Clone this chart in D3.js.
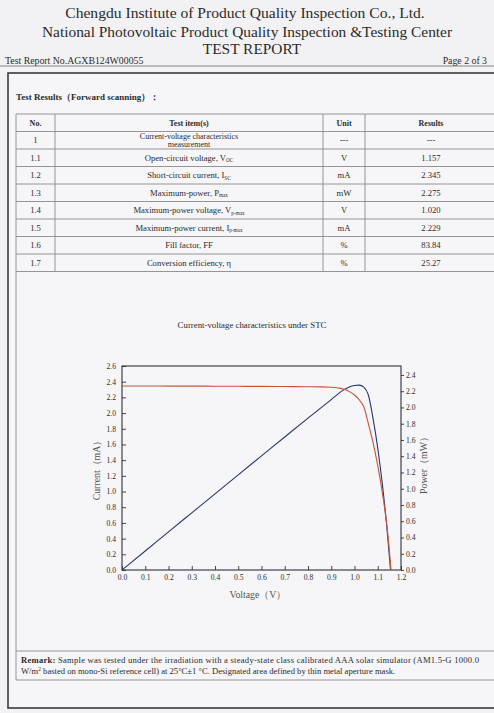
<!DOCTYPE html>
<html>
<head>
<meta charset="utf-8">
<script src="https://cdn.jsdelivr.net/npm/d3@7"></script>
<style>
body { margin: 0; background: #f2f2f4; }
svg { display: block; }
text { font-family: "Liberation Serif", "DejaVu Serif", serif; fill: #2b2b2b; }
</style>
</head>
<body>
<svg id="page" width="494" height="713"></svg>
<script>
// ---- data ----
var itemNo = ["1", "1.1", "1.2", "1.3", "1.4", "1.5", "1.6", "1.7"];
var itemName = ["Current-voltage characteristics|measurement", "Open-circuit voltage, V", "Short-circuit current, I",
  "Maximum-power, P", "Maximum-power voltage, V", "Maximum-power current, I", "Fill factor, FF", "Conversion efficiency, \u03b7"];
var itemSub = ["", "OC", "SC", "max", "p-max", "p-max", "", ""];
var itemUnit = ["---", "V", "mA", "mW", "V", "mA", "%", "%"];
var itemResult = ["---", "1.157", "2.345", "2.275", "1.020", "2.229", "83.84", "25.27"];

// I-V curve (red, left axis)
var ivVoltage = [0, 0.1, 0.2, 0.3, 0.4, 0.5, 0.6, 0.7, 0.8, 0.85, 0.9, 0.93, 0.96, 0.98, 1.0, 1.02, 1.04, 1.06, 1.08, 1.1, 1.12, 1.14, 1.15, 1.157];
var ivCurrent = [2.345, 2.345, 2.344, 2.344, 2.342, 2.341, 2.340, 2.338, 2.336, 2.334, 2.33, 2.32, 2.30, 2.27, 2.23, 2.17, 2.08, 1.86, 1.62, 1.33, 0.98, 0.55, 0.25, 0];
// P-V curve (blue, right axis)
var pvVoltage = [0, 0.1, 0.2, 0.3, 0.4, 0.5, 0.6, 0.7, 0.8, 0.9, 0.95, 0.98, 1.0, 1.02, 1.04, 1.06, 1.08, 1.1, 1.12, 1.14, 1.155];
var pvPower = [0, 0.234, 0.469, 0.703, 0.937, 1.171, 1.404, 1.637, 1.869, 2.097, 2.21, 2.255, 2.27, 2.275, 2.25, 2.15, 1.86, 1.5, 1.05, 0.5, 0];

var voltageTicks = [0, 0.1, 0.2, 0.3, 0.4, 0.5, 0.6, 0.7, 0.8, 0.9, 1.0, 1.1, 1.2];
var currentTicks = [0, 0.2, 0.4, 0.6, 0.8, 1.0, 1.2, 1.4, 1.6, 1.8, 2.0, 2.2, 2.4, 2.6];
var powerTicks = [0, 0.2, 0.4, 0.6, 0.8, 1.0, 1.2, 1.4, 1.6, 1.8, 2.0, 2.2, 2.4];

var svg = d3.select("#page");
var rule = "#8a8a8a";

// ---- page header ----
svg.append("text").attr("x", 245).attr("y", 18).attr("text-anchor", "middle")
  .style("font-size", "15.6px").text("Chengdu Institute of Product Quality Inspection Co., Ltd.");
svg.append("text").attr("x", 247).attr("y", 37).attr("text-anchor", "middle")
  .style("font-size", "15.4px").text("National Photovoltaic Product Quality Inspection &Testing Center");
svg.append("text").attr("x", 252).attr("y", 54).attr("text-anchor", "middle")
  .style("font-size", "15.4px").text("TEST REPORT");
svg.append("text").attr("x", 5).attr("y", 63.5).style("font-size", "9.8px").text("Test Report No.AGXB124W00055");
svg.append("text").attr("x", 487).attr("y", 63.5).attr("text-anchor", "end").style("font-size", "9.8px").text("Page 2 of 3");
svg.append("line").attr("x1", 0).attr("x2", 494).attr("y1", 66).attr("y2", 66)
  .attr("stroke", "#666").attr("stroke-width", 0.8);

// outer frame (right side runs off the scan)
svg.append("rect").attr("x", 8).attr("y", 73).attr("width", 492).attr("height", 635)
  .attr("fill", "#f6f6f8").attr("stroke", "#3a3a3a").attr("stroke-width", 1.6);

svg.append("text").attr("x", 16).attr("y", 100).style("font-size", "9px").style("font-weight", "bold")
  .text("Test Results\uff08Forward scanning\uff09\uff1a");

// ---- results table ----
var colX = [16, 55, 323, 365, 496];
var rowY = [114, 131.5, 149, 166.5, 184, 201.5, 219, 236.5, 254, 271.5];
var chartBottom = 651, remarkBottom = 680;

var tbl = svg.append("g");
tbl.selectAll("line.h").data(rowY.concat([chartBottom, remarkBottom])).enter().append("line")
  .attr("x1", colX[0]).attr("x2", colX[4]).attr("y1", function(d) { return d; }).attr("y2", function(d) { return d; })
  .attr("stroke", rule).attr("stroke-width", 0.9);
tbl.selectAll("line.v").data(colX).enter().append("line")
  .attr("x1", function(d) { return d; }).attr("x2", function(d) { return d; })
  .attr("y1", rowY[0]).attr("y2", function(d, i) { return (i === 0 || i === 4) ? remarkBottom : rowY[rowY.length - 1]; })
  .attr("stroke", rule).attr("stroke-width", 0.9);

var colMid = [35.5, 189, 344, 431];
var header = ["No.", "Test item(s)", "Unit", "Results"];
tbl.selectAll("text.hd").data(header).enter().append("text")
  .attr("x", function(d, i) { return colMid[i]; }).attr("y", 126).attr("text-anchor", "middle")
  .style("font-size", "8px").style("font-weight", "bold").text(function(d) { return d; });

itemNo.forEach(function(no, i) {
  var cy = (rowY[i + 1] + rowY[i + 2]) / 2 + 3;
  var row = tbl.append("g").style("font-size", "8.6px").style("fill", "#3a3a3a");
  row.append("text").attr("x", colMid[0]).attr("y", cy).attr("text-anchor", "middle").text(no);
  var parts = itemName[i].split("|");
  if (parts.length > 1) {
    row.append("text").attr("x", colMid[1]).attr("y", cy - 4).attr("text-anchor", "middle").style("font-size", "8px").text(parts[0]);
    row.append("text").attr("x", colMid[1]).attr("y", cy + 3.6).attr("text-anchor", "middle").style("font-size", "8px").text(parts[1]);
  } else {
    var t = row.append("text").attr("x", colMid[1]).attr("y", cy).attr("text-anchor", "middle");
    t.append("tspan").text(parts[0]);
    if (itemSub[i]) t.append("tspan").attr("dy", 1.4).style("font-size", "5.2px").text(itemSub[i]);
  }
  row.append("text").attr("x", colMid[2]).attr("y", cy).attr("text-anchor", "middle").text(itemUnit[i]);
  row.append("text").attr("x", colMid[3]).attr("y", cy).attr("text-anchor", "middle").text(itemResult[i]);
});

// ---- chart ----
svg.append("text").attr("x", 252).attr("y", 328).attr("text-anchor", "middle")
  .style("font-size", "8.8px").text("Current-voltage characteristics under STC");

var x = d3.scaleLinear().domain([0, 1.2]).range([122, 401]);
var yI = d3.scaleLinear().domain([0, 2.6]).range([570, 366]);
var yP = d3.scaleLinear().domain([0, 2.51]).range([570, 366]);

var fmt = d3.format(".1f");
var chart = svg.append("g");

var xAxis = chart.append("g").attr("transform", "translate(0,570)")
  .call(d3.axisBottom(x).tickValues(voltageTicks).tickFormat(fmt).tickSizeInner(-4).tickSizeOuter(0).tickPadding(5));
var yAxisL = chart.append("g").attr("transform", "translate(122,0)")
  .call(d3.axisLeft(yI).tickValues(currentTicks).tickFormat(fmt).tickSizeInner(-4).tickSizeOuter(0).tickPadding(6));
var yAxisR = chart.append("g").attr("transform", "translate(401,0)")
  .call(d3.axisRight(yP).tickValues(powerTicks).tickFormat(fmt).tickSizeInner(3).tickSizeOuter(0).tickPadding(2));

[xAxis, yAxisL, yAxisR].forEach(function(a) {
  a.select(".domain").remove();
  a.selectAll("line").attr("stroke", "#333").attr("stroke-width", 0.9);
  a.selectAll("text").style("font-family", "Liberation Serif, serif").style("font-size", "7.6px").attr("fill", "#555");
});

chart.append("rect").attr("x", x(0)).attr("y", yI(2.6)).attr("width", x(1.2) - x(0)).attr("height", yI(0) - yI(2.6))
  .attr("fill", "none").attr("stroke", "#2e2e3a").attr("stroke-width", 1.1);

var ivLine = d3.line().x(function(d, i) { return x(ivVoltage[i]); }).y(function(d) { return yI(d); }).curve(d3.curveMonotoneX);
var pvLine = d3.line().x(function(d, i) { return x(pvVoltage[i]); }).y(function(d) { return yP(d); }).curve(d3.curveMonotoneX);

chart.append("path").datum(pvPower).attr("d", pvLine).attr("fill", "none").attr("stroke", "#27376f").attr("stroke-width", 1.1);
chart.append("path").datum(ivCurrent).attr("d", ivLine).attr("fill", "none").attr("stroke", "#c4553a").attr("stroke-width", 1.1);

chart.append("text").attr("transform", "translate(100,468) rotate(-90)").attr("text-anchor", "middle")
  .style("font-size", "9.8px").style("fill", "#555").text("Current\uff08mA\uff09");
chart.append("text").attr("transform", "translate(427,463) rotate(-90)").attr("text-anchor", "middle")
  .style("font-size", "9.8px").style("fill", "#555").text("Power\uff08mW\uff09");
chart.append("text").attr("x", 258).attr("y", 598).attr("text-anchor", "middle")
  .style("font-size", "9.8px").style("fill", "#555").text("Voltage\uff08V\uff09");

// ---- remark ----
var remark = svg.append("g").style("font-size", "8.6px").style("fill", "#3a3a3a");
var r1 = remark.append("text").attr("x", 21).attr("y", 663).attr("textLength", 458).attr("lengthAdjust", "spacing");
r1.append("tspan").style("font-weight", "bold").text("Remark: ");
r1.append("tspan").text("Sample was tested under the irradiation with a steady-state class calibrated AAA solar simulator (AM1.5-G 1000.0");
var r2 = remark.append("text").attr("x", 21).attr("y", 674);
r2.append("tspan").text("W/m");
r2.append("tspan").attr("dy", -3).style("font-size", "5.5px").text("2");
r2.append("tspan").attr("dy", 3).text(" basted on mono-Si reference cell) at 25\u00b0C\u00b11 \u00b0C. Designated area defined by thin metal aperture mask.");
</script>
</body>
</html>
